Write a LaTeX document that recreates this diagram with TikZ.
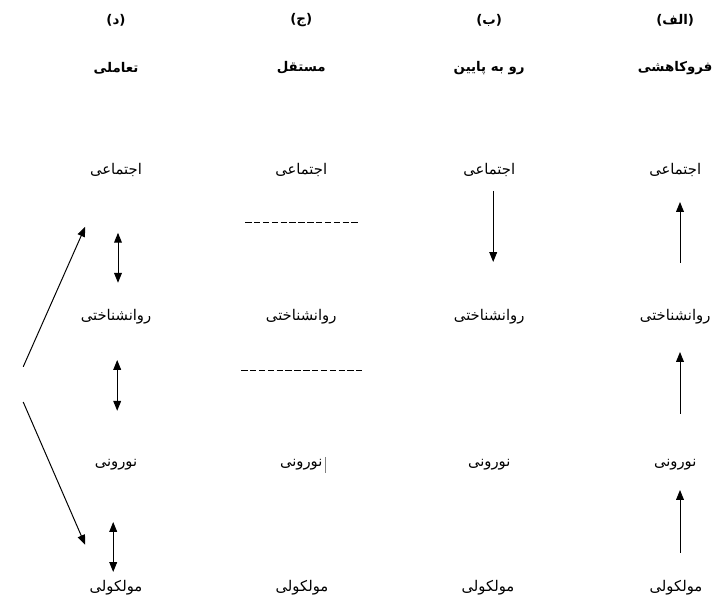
\documentclass[tikz,border=0pt]{standalone}
\usepackage{fontspec}
\usetikzlibrary{arrows.meta}
\newfontfamily\arabicfont[Script=Arabic]{DejaVu Sans}
\TeXXeTstate=1
\begin{document}
\begin{tikzpicture}[x=1cm,y=1cm,
  lvl/.style={font=\fontsize{10.5}{12}\selectfont\arabicfont,inner sep=1pt},
  ttl/.style={font=\fontsize{9.5}{11}\selectfont\arabicfont\bfseries,inner sep=1pt},
  arr/.style={-{Triangle[length=7pt,width=5.5pt]},line width=0.7pt},
  darr/.style={{Triangle[length=7pt,width=5.5pt]}-{Triangle[length=7pt,width=5.5pt]},line width=0.7pt}]
\useasboundingbox (0,0) rectangle (17.8,15.05);
\node[ttl] (a-head) at (16.88,14.55) {\beginR(الف)\endR};
\node[ttl] (b-head) at (12.23,14.55) {\beginR(ب)\endR};
\node[ttl] (j-head) at (7.53,14.55) {\beginR(ج)\endR};
\node[ttl] (d-head) at (2.90,14.55) {\beginR(د)\endR};
\node[ttl] (a-title) at (16.88,13.35) {\beginR فروکاهشی\endR};
\node[ttl] (b-title) at (12.23,13.35) {\beginR رو به پایین\endR};
\node[ttl] (j-title) at (7.53,13.35) {\beginR مستقل\endR};
\node[ttl] (d-title) at (2.90,13.35) {\beginR تعاملی\endR};
\node[lvl] (a-soc) at (16.88,10.80) {\beginR اجتماعی\endR};
\node[lvl] (a-psy) at (16.88,7.13) {\beginR روانشناختی\endR};
\node[lvl] (a-neu) at (16.88,3.43) {\beginR نورونی\endR};
\node[lvl] (a-mol) at (16.90,0.35) {\beginR مولکولی\endR};
\node[lvl] (b-soc) at (12.23,10.80) {\beginR اجتماعی\endR};
\node[lvl] (b-psy) at (12.23,7.13) {\beginR روانشناختی\endR};
\node[lvl] (b-neu) at (12.23,3.43) {\beginR نورونی\endR};
\node[lvl] (b-mol) at (12.20,0.35) {\beginR مولکولی\endR};
\node[lvl] (j-soc) at (7.53,10.80) {\beginR اجتماعی\endR};
\node[lvl] (j-psy) at (7.53,7.13) {\beginR روانشناختی\endR};
\node[lvl] (j-neu) at (7.53,3.43) {\beginR نورونی\endR};
\node[lvl] (j-mol) at (7.55,0.35) {\beginR مولکولی\endR};
\node[lvl] (d-soc) at (2.90,10.80) {\beginR اجتماعی\endR};
\node[lvl] (d-psy) at (2.90,7.13) {\beginR روانشناختی\endR};
\node[lvl] (d-neu) at (2.90,3.43) {\beginR نورونی\endR};
\node[lvl] (d-mol) at (2.90,0.35) {\beginR مولکولی\endR};
\coordinate (a1s) at (17.00,8.48);
\coordinate (a1e) at (17.00,10.00);
\coordinate (a2s) at (17.00,4.70);
\coordinate (a2e) at (17.00,6.25);
\coordinate (a3s) at (17.00,1.23);
\coordinate (a3e) at (17.00,2.80);
\draw[arr] (a1s) -- (a1e);
\draw[arr] (a2s) -- (a2e);
\draw[arr] (a3s) -- (a3e);
\coordinate (b1s) at (12.33,10.28);
\coordinate (b1e) at (12.33,8.50);
\draw[arr] (b1s) -- (b1e);
\coordinate (j1s) at (6.13,9.50);
\coordinate (j1e) at (8.95,9.50);
\coordinate (j2s) at (6.03,5.78);
\coordinate (j2e) at (9.05,5.78);
\draw[dash pattern=on 4.5pt off 1.8pt,line width=0.6pt] (j1s) -- (j1e);
\draw[dash pattern=on 4.5pt off 1.8pt,line width=0.6pt] (j2s) -- (j2e);
\draw[gray,line width=0.4pt] ([xshift=0.5pt,yshift=0.2cm]j-neu.east) -- ([xshift=0.5pt,yshift=-0.2cm]j-neu.east);
\coordinate (d1s) at (2.95,9.23);
\coordinate (d1e) at (2.95,7.98);
\coordinate (d2s) at (2.93,6.05);
\coordinate (d2e) at (2.93,4.78);
\coordinate (d3s) at (2.83,2.00);
\coordinate (d3e) at (2.83,0.75);
\draw[darr] (d1s) -- (d1e);
\draw[darr] (d2s) -- (d2e);
\draw[darr] (d3s) -- (d3e);
\coordinate (up-s) at (0.58,5.88);
\coordinate (up-e) at (2.13,9.38);
\coordinate (dn-s) at (0.58,5.00);
\coordinate (dn-e) at (2.13,1.43);
\draw[arr] (up-s) -- (up-e);
\draw[arr] (dn-s) -- (dn-e);
\end{tikzpicture}
\end{document}
